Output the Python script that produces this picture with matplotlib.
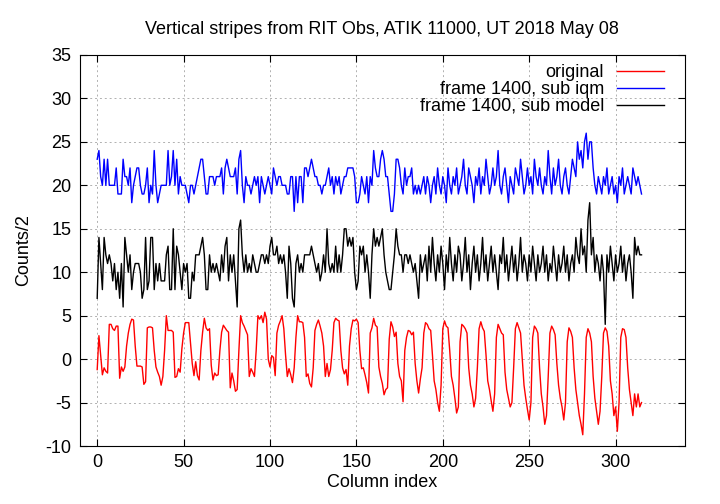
import matplotlib
matplotlib.use("Agg")
import matplotlib.pyplot as plt
import numpy as np

# series (one value per column index)
orig_red = [
    -1.2, 2.7, 0.5, -1.8, -1.0, -1.4, -1.6, 4.0, 4.0, 3.5,
    3.3, 3.8, 3.8, -2.2, -0.9, -1.4, -0.9, 1.5, 3.0, 4.0,
    4.6, 4.5, 1.5, -0.8, -0.8, -0.8, -0.9, -2.9, -2.6, 3.6,
    3.7, 3.7, 3.6, 1.0, -0.9, -1.5, -2.0, -3.0, -2.0, 1.0,
    5.0, 3.3, 3.3, 3.3, 3.1, -2.1, -2.0, -1.1, -1.5, 1.2,
    3.0, 4.2, 4.2, 4.2, 1.9, -0.5, -1.9, -0.3, -1.9, -2.4,
    1.0, 3.1, 4.7, 3.6, 3.3, 3.5, -0.7, -2.4, -1.6, -1.9,
    -1.8, 1.0, 3.1, 3.9, 3.6, 3.3, 3.1, -3.3, -1.6, -2.5,
    -3.7, -3.5, 1.0, 5.0, 4.2, 3.8, 3.3, 2.8, -2.0, -1.1,
    -1.5, -2.0, 1.0, 5.0, 4.6, 5.0, 4.2, 5.4, 4.6, 0.0,
    -0.9, 0.4, 0.2, -1.9, 3.0, 3.9, 4.4, 5.0, 3.5, 0.5,
    -2.0, -1.1, -1.8, -2.7, -1.0, 2.5, 5.0, 4.3, 4.3, 4.2,
    2.5, -2.0, -1.7, -2.8, -3.2, -1.0, 3.3, 4.0, 4.5, 3.8,
    3.0, 1.5, -2.0, -0.5, -2.0, -1.2, 1.0, 4.2, 4.7, 4.5,
    4.4, 1.0, -1.0, -1.7, -1.2, -3.0, 1.5, 3.5, 4.5, 4.4,
    4.6, 4.2, 1.0, -1.1, -1.0, -1.8, -2.7, -3.9, 3.0, 3.6,
    4.7, 3.9, 3.7, -0.9, -2.0, -2.8, -4.1, -3.5, -3.3, 2.3,
    4.3, 3.7, 2.6, 3.1, -0.5, -2.0, -2.5, -4.9, 1.0, 2.5,
    3.3, 3.2, 2.8, 3.1, -0.5, -2.5, -3.9, -2.3, -1.0, 3.0,
    4.2, 4.0, 3.5, 3.3, 0.5, -2.5, -3.5, -5.0, -6.0, -3.0,
    3.5, 4.4, 3.8, 3.6, 1.0, -2.0, -3.0, -4.5, -6.2, -5.5,
    2.0, 4.0, 3.8, 3.5, 3.0, -1.0, -3.0, -4.0, -5.5, -4.5,
    -1.0, 3.5, 4.3, 3.6, 3.2, 0.5, -2.5, -3.5, -4.8, -6.0,
    -4.0, 2.5, 4.0, 3.5, 3.0, 2.8, -1.5, -3.5, -4.5, -5.5,
    -5.0, -1.0, 3.5, 4.2, 3.6, 3.0, 0.0, -3.0, -4.5, -5.8,
    -7.0, -5.0, 2.5, 3.8, 3.5, 3.0, -1.0, -4.0, -5.5, -7.5,
    -6.5, -2.0, 3.0, 3.8, 3.4, 2.8, -0.5, -3.0, -4.5, -5.5,
    -7.0, -5.0, 2.0, 3.6, 3.2, 2.5, -1.0, -3.5, -5.0, -6.5,
    -7.5, -8.7, -4.0, 2.5, 3.5, 3.0, 2.0, -2.0, -4.5, -6.0,
    -7.5, -6.0, -2.0, 3.0, 3.6, 3.2, 1.5, -2.5, -4.0, -6.5,
    -5.5, -8.3, -5.0, 2.5, 3.5, 3.4, 2.5, -1.0, -3.5, -5.0,
    -6.5, -4.0, -5.5, -4.0, -5.5, -5.0,
]

sub_iqm = [
    23, 24, 21, 20, 23, 20, 23, 20, 20, 20,
    20, 22, 19, 19, 19, 23, 21, 21, 20, 22,
    18, 20, 21, 22, 22, 20, 19, 19, 20, 22,
    18, 20, 19, 24, 20, 18, 19, 20, 20, 20,
    20, 24, 20, 21, 24, 20, 23, 19, 21, 20,
    20, 20, 19, 18, 20, 20, 19, 20, 21, 22,
    23, 23, 21, 19, 19, 21, 21, 21, 20, 21,
    21, 21, 22, 19, 22, 23, 22, 21, 21, 21,
    22, 19, 23, 24, 20, 18, 21, 20, 20, 19,
    20, 21, 20, 21, 18, 21, 20, 19, 20, 21,
    20, 19, 22, 21, 20, 21, 21, 20, 20, 20,
    19, 19, 21, 21, 17, 21, 18, 21, 21, 18,
    22, 22, 21, 22, 23, 22, 21, 21, 20, 20,
    19, 20, 20, 21, 22, 20, 21, 19, 21, 20,
    21, 19, 20, 21, 21, 22, 22, 22, 22, 21,
    18, 18, 19, 21, 20, 19, 21, 18, 21, 20,
    24, 22, 21, 21, 23, 24, 23, 21, 21, 19,
    17, 17, 19, 23, 23, 22, 20, 19, 22, 20,
    21, 21, 22, 19, 20, 19, 20, 19, 20, 21,
    19, 21, 20, 18, 20, 21, 19, 22, 20, 19,
    21, 20, 18, 22, 20, 19, 21, 20, 22, 19,
    20, 21, 23, 20, 19, 22, 21, 20, 18, 21,
    20, 22, 19, 21, 20, 23, 21, 19, 20, 22,
    20, 21, 24, 20, 19, 21, 22, 20, 18, 21,
    20, 19, 22, 21, 20, 23, 21, 19, 20, 22,
    20, 21, 19, 23, 21, 20, 22, 20, 19, 21,
    20, 24, 21, 19, 22, 20, 21, 23, 20, 19,
    21, 22, 20, 19, 21, 23, 22, 21, 25, 23,
    24, 22, 25, 26, 23, 25, 25, 22, 20, 19,
    21, 20, 19, 21, 20, 22, 19, 20, 21, 19,
    20, 18, 21, 20, 22, 19, 20, 21, 20, 19,
    22, 21, 20, 21, 20, 19,
]

sub_model = [
    7, 14, 11, 8, 14, 12, 11, 12, 11, 9,
    11, 8, 10, 7, 11, 6, 14, 12, 10, 12,
    8, 10, 11, 11, 11, 10, 7, 8, 14, 8,
    9, 14, 14, 8, 11, 9, 11, 9, 9, 9,
    12, 13, 8, 8, 15, 8, 13, 12, 10, 8,
    11, 10, 11, 7, 7, 10, 9, 12, 12, 12,
    13, 14, 12, 8, 8, 12, 10, 11, 10, 11,
    10, 9, 12, 10, 13, 14, 9, 12, 10, 12,
    9, 6, 15, 16, 12, 10, 12, 10, 11, 10,
    12, 11, 10, 10, 11, 12, 12, 11, 12, 11,
    13, 14, 12, 12, 13, 11, 12, 11, 12, 10,
    7, 13, 11, 7, 6, 11, 12, 10, 11, 10,
    12, 12, 12, 12, 13, 12, 11, 10, 11, 9,
    10, 12, 10, 15, 11, 10, 11, 10, 13, 10,
    12, 10, 12, 15, 15, 13, 14, 13, 14, 10,
    8, 9, 13, 12, 13, 10, 12, 10, 7, 12,
    15, 13, 14, 13, 14, 15, 12, 10, 9, 8,
    8, 10, 12, 15, 13, 12, 12, 10, 12, 12,
    11, 12, 11, 10, 11, 9, 7, 12, 10, 11,
    12, 9, 13, 10, 14, 11, 9, 12, 10, 13,
    11, 8, 12, 10, 14, 11, 9, 12, 10, 13,
    12, 9, 11, 14, 10, 12, 8, 11, 13, 10,
    12, 9, 11, 14, 10, 12, 9, 11, 13, 10,
    12, 10, 8, 12, 11, 14, 10, 12, 9, 11,
    13, 10, 12, 9, 11, 14, 10, 12, 11, 9,
    12, 10, 13, 11, 9, 12, 10, 11, 13, 10,
    12, 9, 11, 10, 13, 11, 9, 12, 10, 11,
    13, 10, 12, 9, 11, 12, 10, 14, 12, 11,
    15, 12, 13, 10, 16, 18, 12, 14, 10, 12,
    11, 9, 12, 10, 4, 12, 10, 13, 11, 9,
    12, 10, 11, 13, 10, 12, 9, 11, 12, 10,
    7, 14, 12, 13, 12, 12,
]

cols = np.arange(len(orig_red))

plt.rcParams['font.family'] = ['Liberation Sans', 'DejaVu Sans']
plt.rcParams['axes.unicode_minus'] = False
fs = 13

fig = plt.figure(figsize=(7.2, 5.04), dpi=100)
ax = fig.add_axes([0.111, 0.115, 0.840, 0.776])

ax.plot(cols, orig_red, color='#ff0000', lw=1.0, label='original')
ax.plot(np.arange(len(sub_iqm)), sub_iqm, color='#0000ff', lw=1.0, label='frame 1400, sub iqm')
ax.plot(np.arange(len(sub_model)), sub_model, color='#000000', lw=1.0, label='frame 1400, sub model')

ax.set_xlim(-10, 340)
ax.set_ylim(-10, 35)
ax.set_xticks(np.arange(0, 301, 50))
ax.set_yticks(np.arange(-10, 36, 5))
ax.grid(True, color='#b0b0b0', linestyle=(0, (2, 3)), lw=0.7)
ax.tick_params(direction='in', top=True, right=True, labelsize=fs, length=5, pad=6)

ax.set_title('Vertical stripes from RIT Obs, ATIK 11000, UT 2018 May 08', fontsize=fs, pad=15)
ax.set_xlabel('Column index', fontsize=fs, labelpad=2)
ax.set_ylabel('Counts/2', fontsize=fs, labelpad=10)

# gnuplot style key: text right-aligned, short sample line after it
leg = ax.legend(loc='upper right', bbox_to_anchor=(0.98, 1.0), frameon=False,
                markerfirst=False, fontsize=fs, handlelength=2.6, handletextpad=0.7,
                labelspacing=0.0, borderaxespad=0.3, borderpad=0.2)
for t in leg.get_texts():
    t.set_ha('right')

fig.savefig('out.png', dpi=100)
